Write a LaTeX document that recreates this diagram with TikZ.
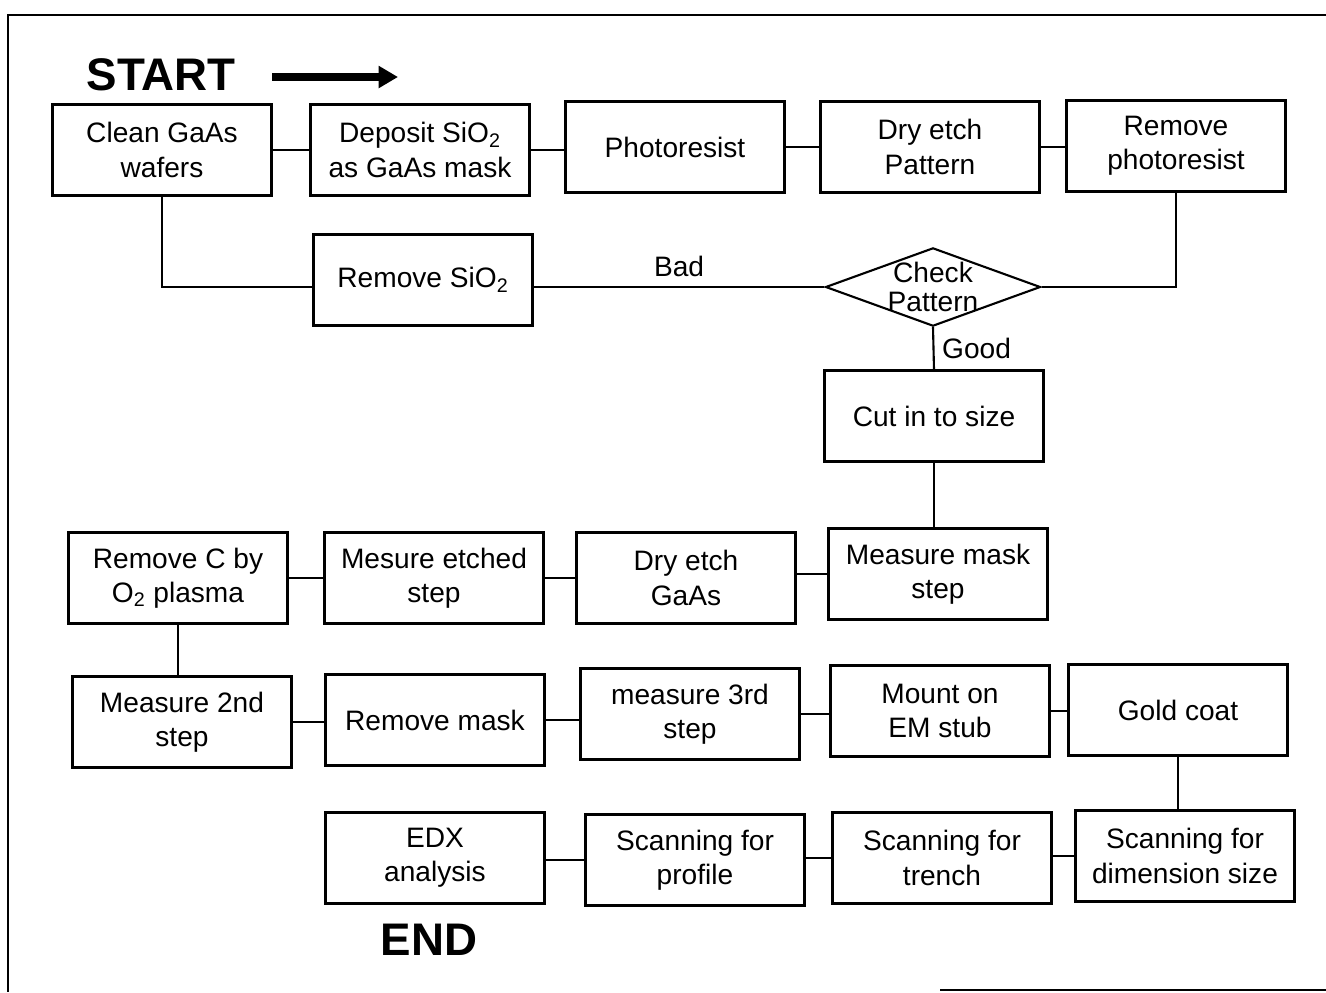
\documentclass[tikz,border=0pt]{standalone}
\usepackage{fontspec}
\setmainfont{Liberation Sans}
\usepackage{tikz}
\usetikzlibrary{positioning,calc,shapes.geometric,arrows.meta}
\newcommand{\bnode}[3]{\node [box] (#1) at (#2) {#3}}

\begin{document}
\begin{tikzpicture}[x=0.02cm,y=-0.02cm,
  box/.style={draw, line width=1.3pt, minimum width=4.38cm, minimum height=1.82cm,
    align=center, inner sep=0pt, font=\fontsize{16}{19.5}\selectfont},
  link/.style={line width=1.2pt},
  bigarrow/.style={line width=4.4pt, -{Triangle[length=11pt,width=12pt]}},
  title/.style={font=\fontsize{26}{30}\bfseries\selectfont, inner sep=0pt}]
\useasboundingbox (0,0) rectangle (1326,992);
\draw[line width=1.2pt] (1326,15) -- (8,15) -- (8,992);
\draw[line width=1.2pt] (940,990) -- (1326,990);

\node [title] (START) at (161,75) {START};
\coordinate (TAIL) at (272,77);
\coordinate (HEAD) at (398,77);
\draw[bigarrow] (TAIL) -- (HEAD);

\bnode{CLEAN}{162,150}{Clean GaAs\\wafers};
\bnode{DEPO}{420,150}{Deposit SiO\textsubscript{2}\\as GaAs mask};
\bnode{PHOTO}{675,147}{Photoresist};
\bnode{DRY}{930,147}{Dry etch\\Pattern};
\bnode{REMPH}{1176,146}{Remove\\photoresist};
\bnode{REMSIO}{423,280}{Remove SiO\textsubscript{2}};
\node [draw, diamond, line width=1.2pt, aspect=2.4, minimum width=4.3cm, inner sep=-2pt,
  align=center, font=\fontsize{16}{17}\selectfont] (CHECK) at (933,287) {Check\\Pattern};
\bnode{CUT}{934,416}{Cut in to size};

\bnode{REMC}{178,578}{Remove C by\\O\textsubscript{2} plasma};
\bnode{ETCH}{434,578}{Mesure etched\\step};
\bnode{DRYG}{686,578}{Dry etch\\GaAs};
\bnode{MASK}{938,574}{Measure mask\\step};

\bnode{M2ND}{182,722}{Measure 2nd\\step};
\bnode{REMM}{435,720}{Remove mask};
\bnode{M3RD}{690,714}{measure 3rd\\step};
\bnode{MOUNT}{940,711}{Mount on\\EM stub};
\bnode{GOLD}{1178,710}{Gold coat};

\bnode{EDX}{435,858}{EDX\\analysis};
\bnode{PROF}{695,860}{Scanning for\\profile};
\bnode{TRENCH}{942,858}{Scanning for\\trench};
\bnode{DIM}{1185,856}{Scanning for\\dimension size};

\node [title] (END) at (429,940) {END};

% top row and the check loop
\draw[link] (CLEAN.east) -- (CLEAN.east -| DEPO.west);
\draw[link] (DEPO.east) -- (DEPO.east -| PHOTO.west);
\draw[link] (PHOTO.east) -- (PHOTO.east -| DRY.west);
\draw[link] (DRY.east) -- (DRY.east -| REMPH.west);
\draw[link] (REMPH.south) |- (CHECK.east);
\draw[link] (CHECK.west -| REMSIO.east) -- (CHECK.west) node [midway, above=2pt, font=\fontsize{16}{19}\selectfont] () {Bad};
\draw[link] (CLEAN.south) |- (CHECK.west -| REMSIO.west);
\draw[link] (CHECK.south) -- (CUT.north) node [midway, right=1pt, font=\fontsize{16}{19}\selectfont] () {Good};
\draw[link] (CUT.south) -- (CUT.south |- MASK.north);

% etch rows
\draw[link] (MASK.west) -- (MASK.west -| DRYG.east);
\draw[link] (DRYG.west) -- (DRYG.west -| ETCH.east);
\draw[link] (ETCH.west) -- (ETCH.west -| REMC.east);
\draw[link] (REMC.south) -- (REMC.south |- M2ND.north);
\draw[link] (M2ND.east) -- (M2ND.east -| REMM.west);
\draw[link] (REMM.east) -- (REMM.east -| M3RD.west);
\draw[link] (M3RD.east) -- (M3RD.east -| MOUNT.west);
\draw[link] (MOUNT.east) -- (MOUNT.east -| GOLD.west);
\draw[link] (GOLD.south) -- (GOLD.south |- DIM.north);
\draw[link] (DIM.west) -- (DIM.west -| TRENCH.east);
\draw[link] (TRENCH.west) -- (TRENCH.west -| PROF.east);
\draw[link] (PROF.west) -- (PROF.west -| EDX.east);

\end{tikzpicture}
\end{document}
